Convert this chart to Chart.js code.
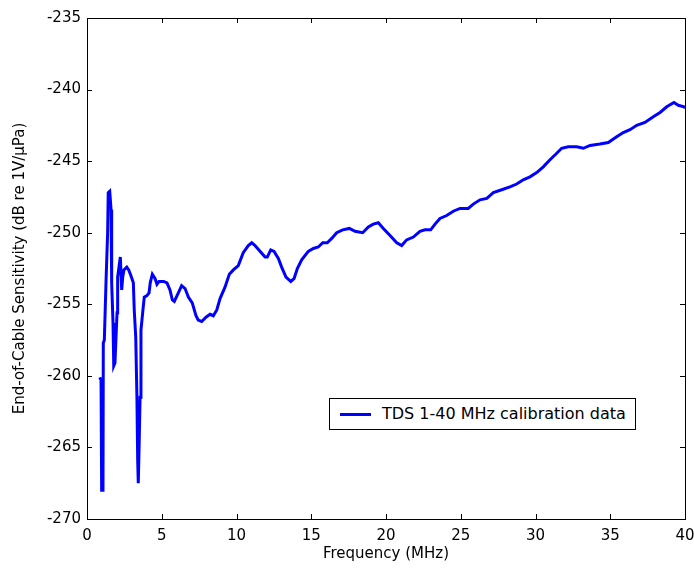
<!DOCTYPE html>
<html lang="en">
<head>
  <meta charset="UTF-8" />
  <title>End-of-Cable Sensitivity</title>
  <script src="https://cdn.jsdelivr.net/npm/chart.js"></script>
  <style>
    body { margin: 0; background: #fff; }
    #wrap { position: relative; width: 694px; height: 569px; }
    #legend {
      position: absolute; left: 329px; top: 398px; width: 305px; height: 30px;
      border: 1px solid #000; background: #fff; box-sizing: content-box;
      font-family: 'DejaVu Sans', sans-serif; font-size: 16px; color: #000;
    }
    #legend .swatch { position: absolute; left: 10px; top: 14px; width: 31px; height: 3px; background: #0000ff; }
    #legend .label { position: absolute; left: 52px; top: 5px; white-space: nowrap; }
  </style>
</head>
<body>
  <div id="wrap">
    <canvas id="chart" width="694" height="569"></canvas>
    <div id="legend"><span class="swatch"></span><span class="label">TDS 1-40 MHz calibration data</span></div>
  </div>

  <script>
    // frequency (MHz) and sensitivity (dB re 1V/uPa)
    const freq = [
      0.85, 0.94, 0.98, 1.07, 1.09, 1.16, 1.27, 1.38, 1.42, 1.52, 1.61, 1.65, 1.74, 1.79, 1.87, 1.94,
      2.01, 2.05, 2.14, 2.23, 2.32, 2.39, 2.47, 2.66, 2.79, 2.94, 3.10, 3.16, 3.26, 3.34, 3.39, 3.43,
      3.48, 3.55, 3.61, 3.75, 3.83, 4.01, 4.15, 4.23, 4.37, 4.55, 4.68, 4.82, 5.13, 5.35, 5.55, 5.71,
      5.84, 6.11, 6.33, 6.56, 6.78, 7.04, 7.29, 7.44, 7.67, 7.96, 8.23, 8.45, 8.68, 8.90, 9.23, 9.52,
      9.79, 10.12, 10.45, 10.79, 11.02, 11.24, 11.57, 11.91, 12.06, 12.29, 12.51, 12.80, 13.02, 13.31,
      13.63, 13.85, 14.07, 14.36, 14.80, 15.14, 15.47, 15.77, 16.07, 16.37, 16.70, 17.10, 17.55, 17.93,
      18.44, 18.82, 19.15, 19.49, 19.82, 20.27, 20.72, 21.05, 21.38, 21.83, 22.27, 22.61, 22.99, 23.28,
      23.61, 24.06, 24.50, 24.95, 25.50, 25.84, 26.29, 26.74, 27.18, 27.74, 28.29, 28.74, 29.18, 29.63,
      30.08, 30.52, 30.97, 31.37, 31.75, 32.19, 32.76, 33.20, 33.65, 34.31, 34.87, 35.43, 35.87, 36.32,
      36.77, 37.32, 37.88, 38.33, 38.78, 39.26, 39.55, 39.93, 40.0
    ];
    const sensitivity = [
      -260.1, -260.3, -268.0, -268.0, -257.7, -257.5, -253.5, -250.0, -247.2, -247.1, -248.4, -253.5, -256.3, -259.3, -259.1, -257.3,
      -255.6, -253.1, -252.4, -251.7, -254.0, -253.1, -252.6, -252.4, -252.6, -253.0, -253.5, -255.4, -257.3, -261.5, -265.9, -267.5,
      -265.2, -261.5, -256.8, -255.3, -254.5, -254.4, -254.2, -253.5, -252.9, -253.2, -253.6, -253.4, -253.4, -253.5, -254.0, -254.7,
      -254.8, -254.2, -253.7, -253.9, -254.5, -254.9, -255.8, -256.1, -256.2, -255.9, -255.7, -255.8, -255.4, -254.6, -253.8, -252.9,
      -252.6, -252.3, -251.4, -250.9, -250.7, -250.9, -251.3, -251.7, -251.7, -251.2, -251.3, -251.8, -252.4, -253.1,
      -253.4, -253.2, -252.5, -251.9, -251.3, -251.1, -251.0, -250.7, -250.7, -250.4, -250.0, -249.8, -249.7, -249.9,
      -250.0, -249.6, -249.4, -249.3, -249.7, -250.2, -250.7, -250.9, -250.5, -250.3, -249.9, -249.8, -249.8, -249.4,
      -249.0, -248.8, -248.5, -248.3, -248.3, -248.0, -247.7, -247.6, -247.2, -247.0, -246.8, -246.6, -246.3, -246.1,
      -245.8, -245.4, -244.9, -244.5, -244.1, -244.0, -244.0, -244.1, -243.9, -243.8, -243.7, -243.3, -243.0, -242.8,
      -242.5, -242.3, -241.9, -241.6, -241.2, -240.9, -241.1, -241.2, -241.3
    ];
    const xTicks = [0, 5, 10, 15, 20, 25, 30, 35, 40];
    const yTicks = [-270, -265, -260, -255, -250, -245, -240, -235];

    const font = { family: "'DejaVu Sans', sans-serif", size: 15 };

    // MATLAB style box with inward ticks on all sides
    const boxTicks = {
      id: 'boxTicks',
      afterDatasetsDraw(chart) {
        const { ctx, chartArea: a, scales: { x, y } } = chart;
        const len = 5;
        ctx.save();
        ctx.strokeStyle = '#000';
        ctx.lineWidth = 1;
        ctx.beginPath();
        xTicks.forEach(v => {
          const px = Math.round(x.getPixelForValue(v)) + 0.5;
          ctx.moveTo(px, a.bottom); ctx.lineTo(px, a.bottom - len);
          ctx.moveTo(px, a.top); ctx.lineTo(px, a.top + len);
        });
        yTicks.forEach(v => {
          const py = Math.round(y.getPixelForValue(v)) + 0.5;
          ctx.moveTo(a.left, py); ctx.lineTo(a.left + len, py);
          ctx.moveTo(a.right, py); ctx.lineTo(a.right - len, py);
        });
        ctx.stroke();
        ctx.strokeRect(Math.round(a.left) + 0.5, Math.round(a.top) + 0.5,
          Math.round(a.right - a.left), Math.round(a.bottom - a.top));
        ctx.restore();
      }
    };

    new Chart(document.getElementById('chart'), {
      type: 'line',
      data: {
        datasets: [{
          label: 'TDS 1-40 MHz calibration data',
          data: freq.map((f, i) => ({ x: f, y: sensitivity[i] })),
          borderColor: '#0000ff',
          borderWidth: 3,
          pointRadius: 0,
          tension: 0,
          fill: false
        }]
      },
      options: {
        responsive: false,
        animation: false,
        layout: { padding: { left: 0, right: 9, top: 18, bottom: 0 } },
        plugins: { legend: { display: false }, tooltip: { enabled: false } },
        scales: {
          x: {
            type: 'linear', min: 0, max: 40,
            afterBuildTicks: s => { s.ticks = xTicks.map(v => ({ value: v })); },
            afterFit: s => { s.height = 50; s.paddingLeft = 0; s.paddingRight = 0; },
            grid: { display: false, drawTicks: false },
            border: { display: false },
            ticks: { font, color: '#000', padding: 8, maxRotation: 0 },
            title: { display: true, text: 'Frequency (MHz)', font, color: '#000', padding: { top: 0, bottom: 6 } }
          },
          y: {
            type: 'linear', min: -270, max: -235,
            afterBuildTicks: s => { s.ticks = yTicks.map(v => ({ value: v })); },
            afterFit: s => { s.width = 87; s.paddingTop = 0; s.paddingBottom = 0; },
            grid: { display: false, drawTicks: false },
            border: { display: false },
            ticks: { font, color: '#000', padding: 6 },
            title: { display: true, text: 'End-of-Cable Sensitivity (dB re 1V/\u03bcPa)', font, color: '#000', padding: { top: 11, bottom: 0 } }
          }
        }
      },
      plugins: [boxTicks]
    });
  </script>
</body>
</html>
